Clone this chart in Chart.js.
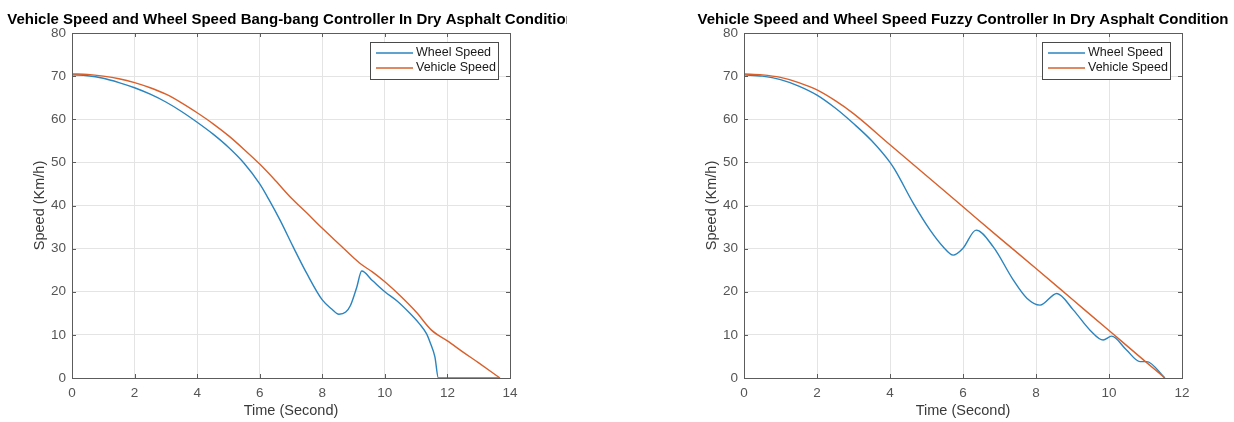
<!DOCTYPE html>
<html>
<head>
<meta charset="utf-8">
<title>Vehicle and wheel speed</title>
<script src="https://cdn.jsdelivr.net/npm/chart.js@4/dist/chart.umd.min.js"></script>
<style>
  html, body { margin: 0; padding: 0; background: #fff; }
  #wrap { position: relative; width: 1234px; height: 422px; overflow: hidden; }
  #wrap canvas { position: absolute; top: 0; }
  #bangChart { left: 0; }
  #fuzzyChart { left: 567px; }
</style>
</head>
<body>
<div id="wrap">
  <canvas id="bangChart" width="567" height="422" style="width:567px;height:422px"></canvas>
  <canvas id="fuzzyChart" width="667" height="422" style="width:667px;height:422px"></canvas>
</div>
<script>
// Bang-bang controller run (dry asphalt)
const bangWheelTime = [0, 0.5, 1, 1.5, 2, 2.5, 3, 3.5, 4, 4.5, 5, 5.5, 6, 6.3, 6.65, 7.07, 7.5, 8, 8.3, 8.53, 8.75, 8.9, 9.1, 9.26, 9.6, 10, 10.4, 10.8, 11.1, 11.33, 11.45, 11.6, 11.71, 12, 13, 13.68];
const bangWheelSpeed = [70.3, 70.1, 69.5, 68.5, 67.3, 65.8, 64.0, 61.8, 59.3, 56.6, 53.5, 49.8, 45.0, 41.3, 36.6, 30.4, 24.3, 18.1, 16.0, 14.8, 15.3, 16.8, 21.0, 24.8, 22.6, 20.0, 17.8, 15.0, 12.6, 10.3, 8.2, 4.9, 0, 0, 0, 0];
const bangVehicleTime = [0, 0.5, 1, 1.5, 2, 2.5, 3, 3.5, 4, 4.5, 5, 5.5, 6, 6.5, 7, 7.5, 8, 8.5, 9.2, 9.6, 10, 10.5, 11, 11.49, 12, 12.5, 13, 13.68];
const bangVehicleSpeed = [70.5, 70.4, 70.0, 69.4, 68.5, 67.3, 65.8, 63.8, 61.5, 59.0, 56.2, 53.0, 49.6, 45.8, 41.8, 38.3, 34.7, 31.3, 26.6, 24.6, 22.3, 19.0, 15.3, 11.1, 8.6, 6.0, 3.5, 0];

// Fuzzy controller run (dry asphalt)
const fuzzyWheelTime = [0, 0.5, 1, 1.5, 2, 2.5, 3, 3.5, 4, 4.14, 4.64, 5.1, 5.46, 5.73, 6.0, 6.36, 6.83, 7.38, 7.75, 8.11, 8.57, 9.02, 9.48, 9.84, 10.07, 10.48, 10.85, 11.03, 11.53];
const fuzzyWheelSpeed = [70.3, 70.0, 69.2, 67.7, 65.6, 62.6, 59.0, 55.0, 50.0, 48.2, 40.5, 34.3, 30.4, 28.5, 30.1, 34.3, 30.4, 22.7, 18.5, 16.9, 19.6, 15.8, 11.1, 8.8, 9.7, 6.5, 3.8, 3.8, 0];
const fuzzyVehicleTime = [0, 0.5, 1, 1.5, 2, 2.5, 3, 4, 5, 6, 7, 8, 9, 10, 11, 11.53];
const fuzzyVehicleSpeed = [70.5, 70.3, 69.7, 68.5, 66.8, 64.3, 61.3, 54.1, 46.9, 39.7, 32.5, 25.4, 18.2, 11.0, 3.8, 0];

const seriesNames = ['Wheel Speed', 'Vehicle Speed'];
const seriesColors = ['#2a84bf', '#d9602b'];
const speedTicks = { min: 0, max: 80, step: 10 };

Chart.defaults.font.family = "'Liberation Sans', Arial, sans-serif";

function toPoints(times, values) {
  return times.map((t, i) => ({ x: t, y: values[i] }));
}

// MATLAB-looking frame: box, inward ticks, title, axis labels and legend
const matlabFrame = {
  id: 'matlabFrame',
  afterDraw(chart, _args, opts) {
    const { ctx, chartArea: a, scales } = chart;
    const xs = scales.x;
    const ys = scales.y;
    ctx.save();

    ctx.strokeStyle = '#5c5c5c';
    ctx.lineWidth = 1;
    ctx.beginPath();
    xs.ticks.forEach((t) => {
      const px = Math.round(xs.getPixelForValue(t.value)) + 0.5;
      ctx.moveTo(px, a.bottom); ctx.lineTo(px, a.bottom - 4);
      ctx.moveTo(px, a.top); ctx.lineTo(px, a.top + 4);
    });
    ys.ticks.forEach((t) => {
      const py = Math.round(ys.getPixelForValue(t.value)) + 0.5;
      ctx.moveTo(a.left, py); ctx.lineTo(a.left + 4, py);
      ctx.moveTo(a.right, py); ctx.lineTo(a.right - 4, py);
    });
    ctx.stroke();
    ctx.strokeRect(Math.round(a.left) + 0.5, Math.round(a.top) + 0.5,
      Math.round(a.right - a.left), Math.round(a.bottom - a.top));

    // title
    ctx.fillStyle = '#000';
    ctx.font = "bold 15px 'Liberation Sans', Arial, sans-serif";
    ctx.textAlign = 'center';
    ctx.textBaseline = 'alphabetic';
    ctx.fillText(opts.title, (a.left + a.right) / 2, 24);

    // axis titles
    ctx.fillStyle = '#3a3a3a';
    ctx.font = "14.5px 'Liberation Sans', Arial, sans-serif";
    ctx.textBaseline = 'middle';
    ctx.fillText('Time (Second)', (a.left + a.right) / 2, 411);
    ctx.save();
    ctx.translate(a.left - 32, (a.top + a.bottom) / 2);
    ctx.rotate(-Math.PI / 2);
    ctx.fillText('Speed (Km/h)', 0, 0);
    ctx.restore();

    // legend, top right inside the axes
    const lw = 128, lh = 37;
    const lx = a.right - 12 - lw, ly = a.top + 9;
    ctx.fillStyle = '#fff';
    ctx.fillRect(lx, ly, lw, lh);
    ctx.strokeStyle = '#4a4a4a';
    ctx.strokeRect(Math.round(lx) + 0.5, Math.round(ly) + 0.5, lw, lh);
    ctx.font = "12.5px 'Liberation Sans', Arial, sans-serif";
    ctx.textAlign = 'left';
    chart.data.datasets.forEach((ds, i) => {
      const rowY = ly + 11 + i * 15;
      ctx.strokeStyle = ds.borderColor;
      ctx.lineWidth = 1.3;
      ctx.beginPath();
      ctx.moveTo(lx + 6, rowY);
      ctx.lineTo(lx + 43, rowY);
      ctx.stroke();
      ctx.fillStyle = '#1a1a1a';
      ctx.fillText(ds.label, lx + 46, rowY);
    });
    ctx.restore();
  }
};

function makeSpeedChart(canvasId, cfg) {
  const datasets = [
    { label: seriesNames[0], data: toPoints(cfg.wheelTime, cfg.wheelSpeed), borderColor: seriesColors[0], order: 1 },
    { label: seriesNames[1], data: toPoints(cfg.vehicleTime, cfg.vehicleSpeed), borderColor: seriesColors[1], order: 0 }
  ].map((d) => Object.assign(d, {
    borderWidth: 1.4,
    pointRadius: 0,
    fill: false,
    cubicInterpolationMode: 'monotone'
  }));

  return new Chart(document.getElementById(canvasId), {
    type: 'line',
    data: { datasets },
    options: {
      responsive: false,
      animation: false,
      devicePixelRatio: 1,
      layout: { padding: { left: cfg.padLeft, right: cfg.padRight, top: 33, bottom: 0 } },
      plugins: {
        legend: { display: false },
        tooltip: { enabled: false },
        matlabFrame: { title: cfg.title }
      },
      scales: {
        x: {
          type: 'linear',
          min: 0,
          max: cfg.timeMax,
          afterFit: (scale) => { scale.height = 44; },
          ticks: { stepSize: 2, padding: 7, color: '#555', font: { size: 13.5 } },
          grid: { color: '#e4e4e4', drawTicks: false },
          border: { display: false }
        },
        y: {
          min: speedTicks.min,
          max: speedTicks.max,
          afterFit: (scale) => { scale.width = 72; },
          ticks: { stepSize: speedTicks.step, padding: 6, color: '#555', font: { size: 13.5 } },
          grid: { color: '#e4e4e4', drawTicks: false },
          border: { display: false }
        }
      }
    },
    plugins: [matlabFrame]
  });
}

makeSpeedChart('bangChart', {
  title: 'Vehicle Speed and Wheel Speed Bang-bang Controller In Dry Asphalt Condition',
  wheelTime: bangWheelTime, wheelSpeed: bangWheelSpeed,
  vehicleTime: bangVehicleTime, vehicleSpeed: bangVehicleSpeed,
  timeMax: 14, padLeft: 0, padRight: 57
});

makeSpeedChart('fuzzyChart', {
  title: 'Vehicle Speed and Wheel Speed Fuzzy Controller In Dry Asphalt Condition',
  wheelTime: fuzzyWheelTime, wheelSpeed: fuzzyWheelSpeed,
  vehicleTime: fuzzyVehicleTime, vehicleSpeed: fuzzyVehicleSpeed,
  timeMax: 12, padLeft: 105, padRight: 52
});
</script>
</body>
</html>
